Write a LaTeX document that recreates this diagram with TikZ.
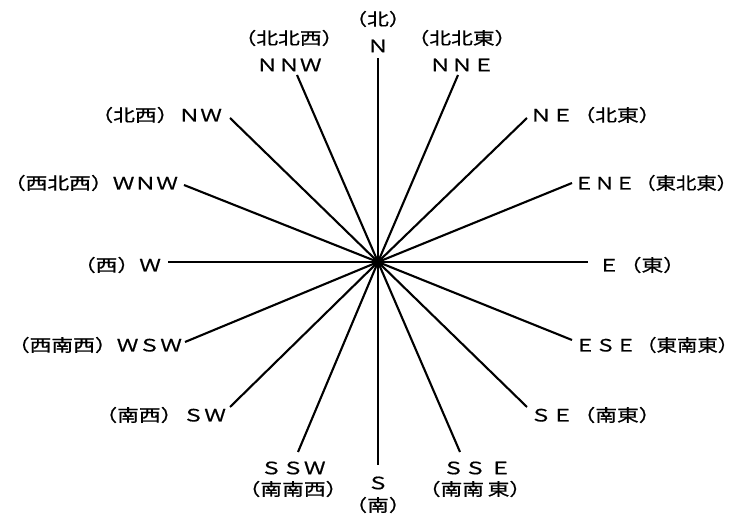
\documentclass[tikz,border=0pt]{standalone}
\usepackage{fontspec}
\usepackage{graphicx}
\newfontfamily\cjk[FakeBold=0.6]{Noto Sans CJK JP}
\newcommand{\dirlab}[2][1.28]{\scalebox{#1}[1]{\cjk\fontsize{17}{17}\selectfont #2}}
\begin{document}
\begin{tikzpicture}[x=1pt,y=-1pt,
  ray/.style={line width=2.1pt, black},
  lab/.style={inner sep=0pt, outer sep=0pt, font=\cjk}]
\useasboundingbox (0,0) rectangle (740,518);
\fill[white] (0,0) rectangle (740,518);
\coordinate (C) at (378,262);
\coordinate (pN) at (378,58);
\coordinate (pNNE) at (458,75);
\coordinate (pNE) at (527,118);
\coordinate (pENE) at (572,183);
\coordinate (pE) at (588,262);
\coordinate (pESE) at (572,340);
\coordinate (pSE) at (527,407);
\coordinate (pSSE) at (460,452);
\coordinate (pS) at (378,465);
\coordinate (pSSW) at (298,452);
\coordinate (pSW) at (230,407);
\coordinate (pWSW) at (185,342);
\coordinate (pW) at (168,262);
\coordinate (pWNW) at (184,185);
\coordinate (pNW) at (230,118);
\coordinate (pNNW) at (297,75);
\foreach \d in {N,NNE,NE,ENE,E,ESE,SE,SSE,S,SSW,SW,WSW,W,WNW,NW,NNW}
  \draw[ray] (C) -- (p\d);
\fill (C) circle (3.5pt);
% top
\node[lab] (lN2) at (378,19) {\dirlab{（北）}};
\node[lab] (lN) at (378,46) {\dirlab{Ｎ}};
\node[lab] (lNNW2) at (289,38) {\dirlab{（北北西）}};
\node[lab] (lNNW) at (289,65) {\dirlab{ＮＮＷ}};
\node[lab] (lNNE2) at (462,38) {\dirlab{（北北東）}};
\node[lab] (lNNE) at (462,65) {\dirlab{ＮＮＥ}};
% left
\node[lab, anchor=east] (lNW) at (222,115) {\dirlab{（北西）ＮＷ}};
\node[lab, anchor=east] (lWNW) at (178,183) {\dirlab{（西北西）ＷＮＷ}};
\node[lab, anchor=east] (lW) at (161,265) {\dirlab{（西）Ｗ}};
\node[lab, anchor=east] (lWSW) at (182,345) {\dirlab{（西南西）ＷＳＷ}};
\node[lab, anchor=east] (lSW) at (226,415) {\dirlab{（南西）ＳＷ}};
% right
\node[lab, anchor=west] (lNE) at (530,115) {\dirlab{ＮＥ（北東）}};
\node[lab, anchor=west] (lENE) at (574,183) {\dirlab[1.2]{ＥＮＥ（東北東）}};
\node[lab, anchor=west] (lE) at (598,265) {\dirlab{Ｅ（東）}};
\node[lab, anchor=west] (lESE) at (575,345) {\dirlab[1.2]{ＥＳＥ（東南東）}};
\node[lab, anchor=west] (lSE) at (530,415) {\dirlab{ＳＥ（南東）}};
% bottom
\node[lab] (lSSW) at (293,468) {\dirlab{ＳＳＷ}};
\node[lab] (lSSW2) at (293,489) {\dirlab{（南南西）}};
\node[lab] (lS) at (378,483) {\dirlab{Ｓ}};
\node[lab] (lS2) at (378,505) {\dirlab{（南）}};
\node[lab] (lSSE) at (477,468) {\dirlab{ＳＳ\,Ｅ}};
\node[lab] (lSSE2) at (475,489) {\dirlab{（南南\,東）}};
\end{tikzpicture}
\end{document}
